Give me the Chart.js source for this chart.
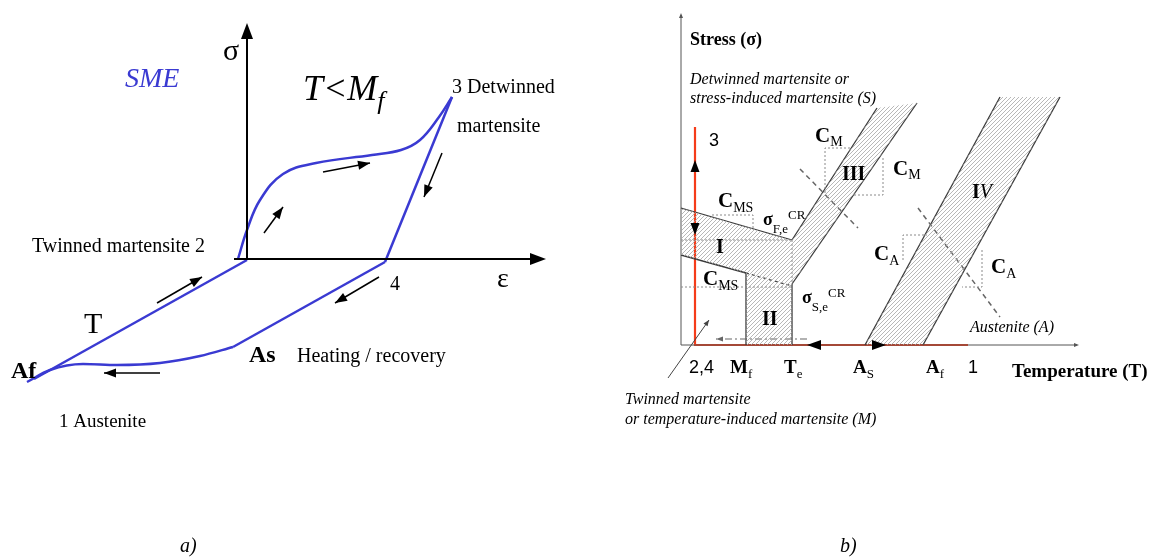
<!DOCTYPE html>
<html>
<head>
<meta charset="utf-8">
<script src="https://cdn.jsdelivr.net/npm/chart.js@4.4.0/dist/chart.umd.min.js"></script>
<style>
    html, body { margin: 0; padding: 0; background: #fff; }
    #wrap { position: relative; width: 1150px; height: 558px; }
</style>
</head>
<body>
<div id="wrap"><canvas id="diagram"></canvas></div>
<script>
// ===== a) SME loop — points in diagram units (x right, y down) =====
const sigmaAxis = [[247, 260], [247, 30]];
const epsAxis = [[234, 259], [540, 259]];
const loadingCurve = [[238, 259], [247, 230], [260, 200], [283, 174], [316, 163], [372, 155], [401, 150], [420, 140], [439, 117], [452, 97]];
const unloadingLine = [[452, 97], [385, 262]];
const heatingLine = [[385, 262], [233, 347]];
const recoveryCurve = [[27, 382], [50, 370], [83, 364], [117, 365], [160, 363], [200, 356], [233, 347]];
const coolingLine = [[34, 379], [247, 260]];
const loopArrows = [[323, 172, 370, 163], [264, 233, 283, 207], [442, 153, 424, 197], [157, 303, 202, 277], [379, 277, 335, 303], [160, 373, 104, 373]];
const axisArrowsA = [[247, 60, 247, 23], [500, 259, 546, 259]];

// ===== b) phase diagram =====
const stressAxis = [[681, 345], [681, 15]];
const tempAxis = [[681, 345], [1077, 345]];
const regionIandII = [[681, 208], [792, 240], [792, 345], [746, 345], [746, 273], [681, 255]];
const bandIII = [[792, 240], [877, 108], [917, 103], [792, 284]];
const bandIV = [[865, 345], [1000, 97], [1060, 97], [923, 345]];
const boundaries = [
    [[681, 208], [792, 240]], [[681, 255], [746, 273]], [[746, 273], [746, 345]], [[792, 284], [792, 345]],
    [[792, 240], [877, 108]], [[792, 284], [917, 103]], [[865, 345], [1000, 97]], [[923, 345], [1060, 97]]
];
const dottedGuides = [
    [[681, 240], [792, 240]], [[681, 287], [792, 287]], [[792, 240], [792, 284]],
    [[712, 215], [753, 215], [753, 228]],
    [[825, 193], [825, 148], [851, 148]], [[883, 158], [883, 195], [853, 195]],
    [[903, 260], [903, 235], [927, 235]], [[982, 250], [982, 287], [962, 287]]
];
const extensionLine = [[746, 273], [792, 286]];
const slopeNormals = [[[800, 169], [858, 228]], [[918, 208], [1000, 317]]];
const coolingPath = [[807, 339], [716, 339]];
const pointerLine = [[668, 378], [709, 320]];
const loadPath = [[695, 127], [695, 345], [968, 345]];
const stressSwing = [[695, 160], [695, 235]];
const heatSwing = [[807, 345], [886, 345]];

// ===== Colors / fonts =====
const blue = '#3a3ad2';
const red = '#f53c1a';
const serif = '"Liberation Serif", "Times New Roman", serif';
const sans = '"Liberation Sans", Arial, sans-serif';

// label: [x, baseline y, parts[[text, size, style, dy, family]], color]
const labels = [
    [223, 60, [['σ', 30, '']]],
    [125, 87, [['SME', 28, 'italic']], blue],
    [303, 100, [['T<M', 36, 'italic'], ['f', 26, 'italic', 9]]],
    [452, 93, [['3 Detwinned', 20, '']]],
    [457, 132, [['martensite', 20, '']]],
    [32, 252, [['Twinned martensite 2', 20, '']]],
    [390, 290, [['4', 20, '']]],
    [497, 287, [['ε', 28, '']]],
    [84, 333, [['T', 30, '']]],
    [11, 378, [['Af', 24, 'bold']]],
    [249, 362, [['As', 24, 'bold']]],
    [297, 362, [['Heating / recovery', 20, '']]],
    [59, 427, [['1 Austenite', 19, '']]],
    [180, 552, [['a)', 20, 'italic']]],

    [690, 45, [['Stress (σ)', 18, 'bold']]],
    [690, 84, [['Detwinned martensite or', 16, 'italic']]],
    [690, 103, [['stress-induced martensite (S)', 16, 'italic']]],
    [709, 146, [['3', 18, '', 0, sans]]],
    [815, 142, [['C', 21, 'bold'], ['M', 14, '', 4]]],
    [893, 175, [['C', 21, 'bold'], ['M', 14, '', 4]]],
    [842, 180, [['III', 20, 'bold']]],
    [972, 198, [['I', 20, 'bold'], ['V', 20, 'italic']]],
    [718, 207, [['C', 21, 'bold'], ['MS', 14, '', 5]]],
    [763, 225, [['σ', 18, 'bold'], ['F,e', 13, '', 8], ['CR', 13, '', -6]]],
    [716, 253, [['I', 20, 'bold']]],
    [703, 285, [['C', 21, 'bold'], ['MS', 14, '', 5]]],
    [762, 325, [['II', 20, 'bold']]],
    [802, 303, [['σ', 18, 'bold'], ['S,e', 13, '', 8], ['CR', 13, '', -6]]],
    [874, 260, [['C', 21, 'bold'], ['A', 14, '', 5]]],
    [991, 273, [['C', 21, 'bold'], ['A', 14, '', 5]]],
    [970, 332, [['Austenite (A)', 16, 'italic']]],
    [689, 373, [['2,4', 18, '', 0, sans]]],
    [730, 373, [['M', 19, 'bold'], ['f', 13, '', 5]]],
    [784, 373, [['T', 19, 'bold'], ['e', 13, '', 5]]],
    [853, 373, [['A', 19, 'bold'], ['S', 13, '', 5]]],
    [926, 373, [['A', 19, 'bold'], ['f', 13, '', 5]]],
    [968, 373, [['1', 18, '', 0, sans]]],
    [1012, 377, [['Temperature (T)', 19, 'bold']]],
    [625, 404, [['Twinned martensite', 16, 'italic']]],
    [625, 424, [['or temperature-induced martensite (M)', 16, 'italic']]],
    [840, 552, [['b)', 20, 'italic']]]
];

// heads: [fromX, fromY, tipX, tipY, length, width, color]
const heads = [
    ...axisArrowsA.map(a => [...a, 16, 12, '#000']),
    ...loopArrows.map(a => [...a, 12, 9, '#000']),
    [695, 200, 695, 160, 12, 9, '#000'], [695, 200, 695, 235, 12, 9, '#000'],
    [850, 345, 807, 345, 14, 10, '#000'], [850, 345, 886, 345, 14, 10, '#000'],
    [750, 339, 716, 339, 7, 5, '#666'], [668, 378, 709, 320, 6, 5, '#444'],
    [681, 30, 681, 13, 5, 4, '#555'], [1060, 345, 1079, 345, 5, 4, '#555']
];

// ===== Hatch pattern =====
function makeHatch() {
    const c = document.createElement('canvas');
    c.width = 4; c.height = 4;
    const g = c.getContext('2d');
    g.strokeStyle = '#a6a6a6';
    g.lineWidth = 0.8;
    g.beginPath();
    g.moveTo(0, 4); g.lineTo(4, 0);
    g.moveTo(-1, 1); g.lineTo(1, -1);
    g.moveTo(3, 5); g.lineTo(5, 3);
    g.stroke();
    return g.createPattern(c, 'repeat');
}

const toPts = a => a.map(([x, y]) => ({ x, y }));

function line(data, color, width, extra) {
    return Object.assign({
        data: toPts(data),
        showLine: true,
        borderColor: color,
        borderWidth: width,
        pointRadius: 0,
        fill: false,
        tension: 0
    }, extra || {});
}

// ===== Plugins: labels and arrow heads in data space =====
const textLabels = {
    id: 'textLabels',
    afterDraw(chart) {
        const { ctx, scales: { x, y } } = chart;
        ctx.save();
        ctx.textBaseline = 'alphabetic';
        labels.forEach(([lx, ly, parts, color]) => {
            let px = x.getPixelForValue(lx);
            const py = y.getPixelForValue(ly);
            ctx.fillStyle = color || '#000';
            parts.forEach(([t, size, style, dy, fam]) => {
                ctx.font = `${style || ''} ${size}px ${fam || serif}`;
                ctx.fillText(t, px, py + (dy || 0));
                px += ctx.measureText(t).width;
            });
        });
        ctx.restore();
    }
};

const arrowHeads = {
    id: 'arrowHeads',
    afterDatasetsDraw(chart) {
        const { ctx, scales: { x, y } } = chart;
        ctx.save();
        heads.forEach(([x1, y1, x2, y2, len, wid, color]) => {
            const ax = x.getPixelForValue(x1), ay = y.getPixelForValue(y1);
            const bx = x.getPixelForValue(x2), by = y.getPixelForValue(y2);
            const ang = Math.atan2(by - ay, bx - ax);
            ctx.fillStyle = color;
            ctx.beginPath();
            ctx.moveTo(bx, by);
            ctx.lineTo(bx - len * Math.cos(ang) + wid / 2 * Math.sin(ang), by - len * Math.sin(ang) - wid / 2 * Math.cos(ang));
            ctx.lineTo(bx - len * Math.cos(ang) - wid / 2 * Math.sin(ang), by - len * Math.sin(ang) + wid / 2 * Math.cos(ang));
            ctx.closePath();
            ctx.fill();
        });
        ctx.restore();
    }
};

document.addEventListener('DOMContentLoaded', () => {
    const hatch = makeHatch();
    const datasets = [
        // hatched regions
        line(regionIandII, 'rgba(0,0,0,0)', 0, { fill: 'shape', backgroundColor: hatch }),
        line(bandIII, 'rgba(0,0,0,0)', 0, { fill: 'shape', backgroundColor: hatch }),
        line(bandIV, 'rgba(0,0,0,0)', 0, { fill: 'shape', backgroundColor: hatch }),
        // guides
        ...dottedGuides.map(d => line(d, '#8a8a8a', 1, { borderDash: [2, 2] })),
        line(extensionLine, '#444', 1.3, { borderDash: [3, 3] }),
        ...slopeNormals.map(d => line(d, '#666', 1.5, { borderDash: [5, 4] })),
        line(coolingPath, '#666', 1.2, { borderDash: [7, 3, 2, 3] }),
        line(pointerLine, '#444', 1),
        // boundaries and axes
        ...boundaries.map(d => line(d, '#3a3a3a', 1.3)),
        line(stressAxis, '#555', 1),
        line(tempAxis, '#555', 1),
        line(loadPath, red, 2.2),
        line(stressSwing, '#000', 2),
        line(heatSwing, '#000', 2),
        // a) loop
        line(sigmaAxis, '#000', 2),
        line(epsAxis, '#000', 2),
        line(loadingCurve, blue, 2.5, { tension: 0.4 }),
        line(unloadingLine, blue, 2.5),
        line(heatingLine, blue, 2.5),
        line(recoveryCurve, blue, 2.5, { cubicInterpolationMode: 'monotone' }),
        line(coolingLine, blue, 2.5),
        ...loopArrows.map(([a, b, c, d]) => line([[a, b], [c, d]], '#000', 1.5))
    ];

    new Chart(document.getElementById('diagram'), {
        type: 'scatter',
        data: { datasets },
        options: {
            responsive: true,
            maintainAspectRatio: false,
            animation: false,
            layout: { padding: 0 },
            plugins: {
                legend: { display: false },
                tooltip: { enabled: false }
            },
            scales: {
                x: { type: 'linear', min: 0, max: 1150, display: false },
                y: { type: 'linear', min: 0, max: 558, reverse: true, display: false }
            }
        },
        plugins: [arrowHeads, textLabels]
    });
});
</script>
</body>
</html>
